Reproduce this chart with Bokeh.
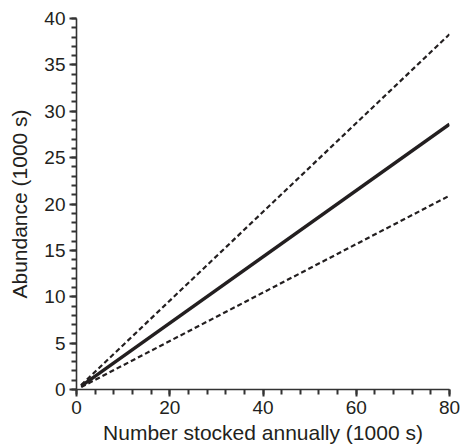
from bokeh.plotting import figure
from bokeh.models import Range1d, FixedTicker
from bokeh.embed import file_html
from bokeh.resources import INLINE

# Data
stocked = [1, 80]
abundance_mid = [0.36, 28.6]
abundance_upper = [0.48, 38.3]
abundance_lower = [0.26, 20.9]

x_major = [0, 20, 40, 60, 80]
x_minor = [v for v in range(0, 81, 4)]
y_major = [0, 5, 10, 15, 20, 25, 30, 35, 40]
y_minor = list(range(0, 41))

FONT = "Liberation Sans"
TXT = "#231f20"

p = figure(width=460, height=446, output_backend="svg", toolbar_location=None,
           x_range=Range1d(0, 80), y_range=Range1d(0, 40),
           min_border_left=76, min_border_right=11, min_border_top=18, min_border_bottom=57)
p.outline_line_color = None
p.grid.visible = False
p.background_fill_color = "white"
p.border_fill_color = "white"

p.line(stocked, abundance_upper, line_color=TXT, line_width=2.2, line_dash="5 3")
p.line(stocked, abundance_lower, line_color=TXT, line_width=2.2, line_dash="5 3")
p.line(stocked, abundance_mid, line_color=TXT, line_width=3.4)

p.xaxis.ticker = FixedTicker(ticks=x_major, minor_ticks=x_minor)
p.yaxis.ticker = FixedTicker(ticks=y_major, minor_ticks=y_minor)

for ax in (p.xaxis, p.yaxis):
    ax.axis_line_color = "#333333"
    ax.axis_line_width = 1.6
    ax.major_tick_line_color = "#333333"
    ax.minor_tick_line_color = "#333333"
    ax.major_tick_line_width = 2
    ax.minor_tick_line_width = 2
    ax.major_tick_out = 7
    ax.major_tick_in = 0
    ax.minor_tick_out = 5
    ax.minor_tick_in = 0
    ax.major_label_text_font = FONT
    ax.major_label_text_font_size = "19px"
    ax.major_label_text_color = TXT
    ax.axis_label_text_font = FONT
    ax.axis_label_text_font_size = "21px"
    ax.axis_label_text_font_style = "normal"
    ax.axis_label_text_color = TXT
    ax.major_label_standoff = 4

p.xaxis.axis_label = "Number stocked annually (1000 s)"
p.yaxis.axis_label = "Abundance (1000 s)"
p.xaxis.axis_label_standoff = 4
p.yaxis.axis_label_standoff = 10

open("out.html", "w").write(file_html(p, INLINE))
